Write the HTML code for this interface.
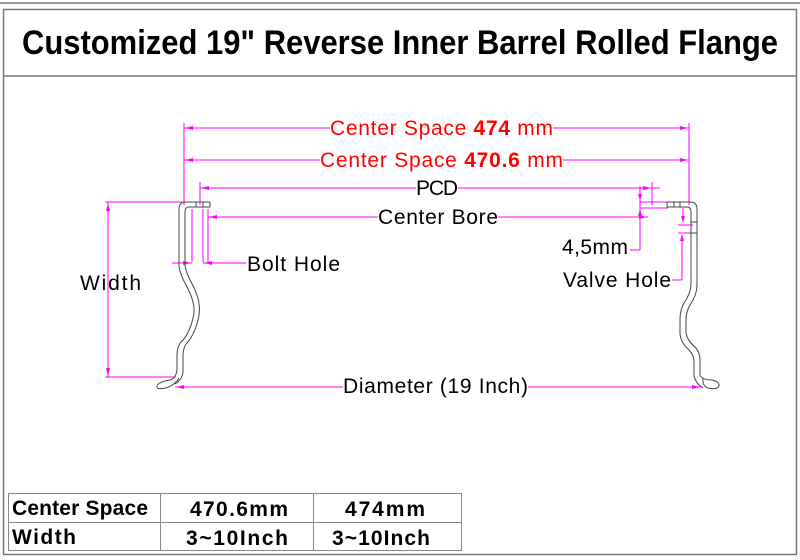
<!DOCTYPE html>
<html><head><meta charset="utf-8"><style>
html,body{margin:0;padding:0;background:#fff;}
svg{display:block;font-family:"Liberation Sans",sans-serif;}
</style></head><body>
<svg width="800" height="560" viewBox="0 0 800 560" xmlns="http://www.w3.org/2000/svg">
<rect x="0" y="0" width="800" height="560" fill="#fff"/>
<line x1="0" y1="3" x2="800" y2="3" stroke="#777" stroke-width="1.5"/>
<rect x="3.5" y="9.5" width="793" height="545" fill="none" stroke="#777" stroke-width="1.5"/>
<line x1="3" y1="76" x2="797" y2="76" stroke="#777" stroke-width="1.5"/>
<text x="400" y="54" text-anchor="middle" font-size="34" font-weight="bold" textLength="756" lengthAdjust="spacingAndGlyphs">Customized 19" Reverse Inner Barrel Rolled Flange</text>

<g stroke="#f0f" stroke-width="1" fill="none">
<line x1="184" y1="123" x2="184" y2="205"/>
<line x1="689" y1="123" x2="689" y2="205"/>
<line x1="200" y1="182" x2="200" y2="205"/>
<line x1="652" y1="182" x2="652" y2="205"/>
<line x1="208" y1="209" x2="208" y2="262"/>
<line x1="184" y1="128" x2="330" y2="128"/><line x1="553" y1="128" x2="689" y2="128"/>
<line x1="184" y1="160" x2="320" y2="160"/><line x1="563" y1="160" x2="689" y2="160"/>
<line x1="200" y1="188" x2="416" y2="188"/><line x1="458" y1="188" x2="660" y2="188"/>
<line x1="208" y1="217" x2="378" y2="217"/><line x1="498" y1="217" x2="648" y2="217"/>
<line x1="105" y1="202" x2="182" y2="202"/><line x1="105" y1="377" x2="176" y2="377"/>
<line x1="108" y1="202" x2="108" y2="377"/>
<line x1="172" y1="263" x2="192" y2="263"/><line x1="203" y1="263" x2="246" y2="263"/>
<line x1="203" y1="209" x2="203" y2="262"/><line x1="192" y1="209" x2="192" y2="262"/>
<line x1="175" y1="387" x2="343" y2="387"/><line x1="528" y1="387" x2="701" y2="387"/>
<line x1="640" y1="186" x2="640" y2="250"/><line x1="640" y1="250" x2="630" y2="250"/>
<line x1="640" y1="202" x2="668" y2="202"/><line x1="640" y1="208" x2="668" y2="208"/>
<line x1="682" y1="235" x2="682" y2="280"/><line x1="682" y1="280" x2="672" y2="280"/>
<line x1="678" y1="225" x2="693" y2="225"/><line x1="678" y1="233" x2="693" y2="233"/>
<line x1="683" y1="208" x2="683" y2="222"/>
</g>
<g fill="#f0f">
<polygon points="185,128 193,126 193,130"/><polygon points="688,128 680,126 680,130"/>
<polygon points="185,160 193,158 193,162"/><polygon points="688,160 680,158 680,162"/>
<polygon points="201,188 209,186 209,190"/><polygon points="651,188 643,186 643,190"/>
<polygon points="209,217 217,215 217,219"/><polygon points="647,217 639,215 639,219"/>
<polygon points="108,203 106,211 110,211"/><polygon points="108,376 106,368 110,368"/>
<polygon points="191,263 183,261 183,265"/><polygon points="204,263 212,261 212,265"/>
<polygon points="176,387 184,385 184,389"/><polygon points="700,387 692,385 692,389"/>
<polygon points="640,201 638,194 642,194"/><polygon points="640,209 638,216 642,216"/>
<polygon points="683,223 681,216 685,216"/><polygon points="682,234 680,241 684,241"/>
</g>

<g stroke="#444" stroke-width="1" fill="none">
<path d="M210,202 H186 Q179,202 179,209 V265 Q179,272 186,285 Q197,305 193,318 Q189,335 181,342 Q177,347 177,355 V370 Q176,378 170,380 Q158,382 157,386 Q156,390 166,388 Q175,385 179,378"/>
<path d="M210,207 H189 Q185,207 185,212 V264 Q185,270 191,282 Q203,303 198,320 Q194,336 186,344 Q183,349 183,356 V372 Q182,380 175,384"/>
<line x1="210" y1="202" x2="210" y2="207"/><line x1="196" y1="202" x2="196" y2="207"/><line x1="203" y1="202" x2="203" y2="207"/>
<path d="M667,202 H690 Q697,202 697,209 V285 Q697,295 690,305 Q686,312 686,320 V333 Q687,340 695,347 Q700,352 700,360 V375 Q702,380 712,380 Q720,382 719,386 Q717,390 708,388 Q702,386 703,378"/>
<path d="M667,207 H687 Q691,207 691,212 V284 Q691,293 684,303 Q680,310 680,319 V334 Q681,343 689,350 Q694,355 694,362 V376 Q696,384 703,388"/>
<line x1="667" y1="202" x2="667" y2="207"/><line x1="674" y1="202" x2="674" y2="207"/><line x1="680" y1="202" x2="680" y2="207"/>
<line x1="691" y1="222" x2="697" y2="222"/><line x1="691" y1="233" x2="697" y2="233"/>
</g>

<g font-size="21" lengthAdjust="spacingAndGlyphs">
<text x="330" y="135" textLength="223" fill="#f00">Center Space <tspan font-weight="bold">474</tspan> mm</text>
<text x="320" y="167" textLength="243" fill="#f00">Center Space <tspan font-weight="bold">470.6</tspan> mm</text>
<text x="416" y="195" textLength="42">PCD</text>
<text x="378" y="224" textLength="120">Center Bore</text>
<text x="247" y="271" textLength="93">Bolt Hole</text>
<text x="80" y="290" textLength="61">Width</text>
<text x="562" y="254" textLength="66">4,5mm</text>
<text x="563" y="287" textLength="108">Valve Hole</text>
<text x="343" y="393" textLength="185">Diameter (19 Inch)</text>
</g>

<g stroke="#888" stroke-width="1" fill="none">
<rect x="8.5" y="493.5" width="453" height="57"/>
<line x1="8" y1="522.5" x2="462" y2="522.5"/>
<line x1="160.5" y1="493" x2="160.5" y2="551"/>
<line x1="313.5" y1="493" x2="313.5" y2="551"/>
</g>
<g font-size="21" font-weight="bold" lengthAdjust="spacingAndGlyphs">
<text x="12" y="515" textLength="136">Center Space</text>
<text x="12" y="544" textLength="64">Width</text>
<text x="190" y="516" textLength="98">470.6mm</text>
<text x="345" y="516" textLength="80">474mm</text>
<text x="186" y="545" textLength="102">3~10Inch</text>
<text x="332" y="545" textLength="98">3~10Inch</text>
</g>
</svg>
</body></html>
